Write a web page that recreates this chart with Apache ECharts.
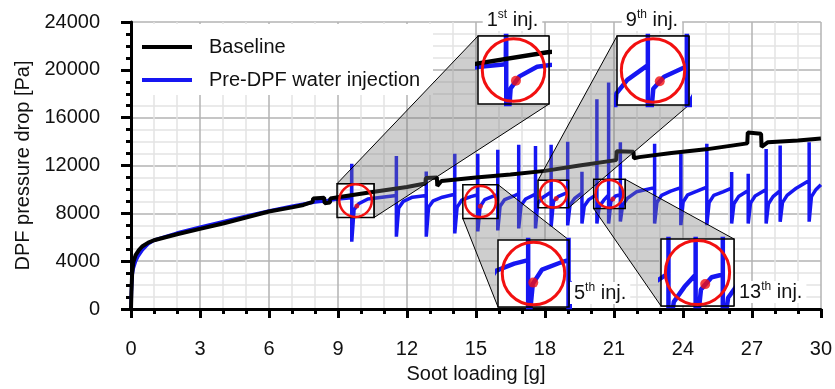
<!DOCTYPE html>
<html>
<head>
<meta charset="utf-8">
<script src="https://cdn.jsdelivr.net/npm/echarts@6/dist/echarts.min.js"></script>
<style>
  html, body { margin: 0; padding: 0; background: #fff; }
  #myChart { width: 835px; height: 389px; }
</style>
</head>
<body>
<div id="myChart"></div>
<script>
// baseline run, soot loading [g] vs pressure drop [Pa]
var baseX = [0, 0.02, 0.05, 0.1, 0.2, 0.35, 0.5, 0.75, 1, 1.5, 2, 3, 4, 4.5, 5, 6, 7, 7.5, 7.9, 7.92, 8.4, 8.42, 8.65, 8.67, 9, 10.5, 12, 12.8, 12.82, 13.3, 13.32, 13.5, 15, 16.5, 18, 19.5, 21.1, 21.12, 21.85, 21.87, 22.1, 23.5, 25, 26.8, 26.82, 27.4, 27.42, 27.7, 29, 30]
var baseY = [0, 1500, 3000, 3900, 4500, 4950, 5250, 5550, 5750, 6000, 6250, 6700, 7150, 7400, 7650, 8150, 8500, 8700, 8950, 9250, 9300, 8850, 8900, 9250, 9350, 9790, 10200, 10500, 10950, 11000, 10300, 10700, 11000, 11250, 11550, 12000, 12450, 13200, 13150, 12600, 12700, 13050, 13350, 13850, 14750, 14650, 13550, 13950, 14100, 14250]

// water injection run before the first injection
var blueX = [0, 0.02, 0.05, 0.1, 0.2, 0.3, 0.5, 0.75, 1, 1.5, 2, 3, 4, 5, 6, 7, 8, 8.5, 9, 9.59]
var blueY = [0, 1500, 2800, 3400, 4000, 4400, 4950, 5450, 5750, 6050, 6350, 6850, 7300, 7750, 8200, 8600, 8950, 9050, 9200, 9300]

// injections: position, spike top, spike bottom, value just before,
// value 0.1 g / 0.3 g / 0.7 g after the injection
var injX = [9.60, 11.54, 12.84, 14.08, 15.08, 15.95, 16.86, 17.59, 18.27, 18.99, 19.61, 20.26, 20.77, 21.28, 22.77, 23.91, 25.04, 26.12, 26.84, 27.62, 28.23, 29.49]
var injTop = [12150, 12790, 11500, 12980, 12980, 13310, 13730, 13640, 13730, 13980, 11480, 17550, 18940, 13950, 13810, 13120, 13810, 11460, 11310, 13390, 13670, 13950]
var injLow = [5630, 6050, 6050, 6320, 6490, 6570, 6740, 6740, 6900, 6990, 7150, 7150, 7150, 7320, 7150, 7010, 7010, 7150, 7150, 7150, 7300, 7300]
var injPre = [9300, 9500, 9500, 9600, 9550, 9550, 9650, 9600, 9790, 9750, 9700, 9600, 9550, 9550, 10150, 10150, 10200, 10100, 9900, 10000, 9900, 10750]
var injR1 = [8300, 8450, 8500, 8500, 8550, 8600, 8650, 8850, 9000, 8700, 8600, 8550, 9000, 8700, 8900, 8950, 8900, 8800, 8850, 8800, 8900, 9400]
var injR2 = [8800, 9000, 9050, 9100, 9150, 9150, 9200, 9300, 9400, 9250, 9150, 9100, 9450, 9250, 9500, 9550, 9500, 9400, 9450, 9400, 9500, 10000]
var injR3 = [9200, 9350, 9350, 9400, 9450, 9450, null, null, null, null, null, null, null, 9800, 9850, 9850, 9800, null, null, null, 10100, null]
var blueEnd = [30, 10400]

// zoomed windows (1st, 5th, 9th, 13th injection)
var zoomName = ['1', '5', '9', '13']
var zoomSup = ['st', 'th', 'th', 'th']
var zoomX0 = [8.96, 14.43, 17.70, 20.12]
var zoomX1 = [10.57, 15.96, 19.03, 21.49]
var zoomY0 = [7650, 7570, 8460, 8400]
var zoomY1 = [10480, 10400, 10760, 10850]
var dotX = [9.82, 15.19, 18.49, 20.95]
var dotY = [8620, 8600, 9250, 9200]

// inset placement in pixels [left, top, width, height]
var insetBox = [[478, 36, 71, 68], [498, 240, 71, 67], [617, 36, 72, 69], [661, 239, 73, 67]]
var insetAbove = [true, false, true, false]

var BLUE = '#1616f2'
var RED = '#f21010'
var FONT = 'Liberation Sans, Arial, sans-serif'

var baseData = baseX.map(function (x, i) { return [x, baseY[i]] })
var blueData = blueX.map(function (x, i) { return [x, blueY[i]] })
injX.forEach(function (x, i) {
  blueData.push([x, injPre[i]], [x, injTop[i]], [x, injLow[i]], [x + 0.1, injR1[i]], [x + 0.3, injR2[i]])
  if (injR3[i] !== null) blueData.push([x + 0.7, injR3[i]])
})
blueData.push(blueEnd)
var dotData = dotX.map(function (x, i) { return [x, dotY[i]] })

var myChart = echarts.init(document.getElementById('myChart'))

var grids = [{ left: 131, right: 12, top: 22, bottom: 78 }]
var xAxes = [{
  type: 'value', min: 0, max: 30, interval: 3,
  name: 'Soot loading [g]', nameLocation: 'middle', nameGap: 55,
  nameTextStyle: { fontSize: 20, color: '#111', fontFamily: FONT },
  axisLabel: { fontSize: 20, color: '#111', margin: 30, fontFamily: FONT },
  axisLine: { lineStyle: { color: '#000', width: 3 } },
  axisTick: { length: 9, lineStyle: { color: '#000', width: 3 } },
  minorTick: { show: true, splitNumber: 3, length: 5, lineStyle: { color: '#000', width: 3 } },
  splitLine: { lineStyle: { color: '#b3b3b3', width: 1.5 } },
  minorSplitLine: { show: true, lineStyle: { color: '#e3e3e3', width: 1.5 } }
}]
var yAxes = [{
  type: 'value', min: 0, max: 24000, interval: 4000,
  name: 'DPF pressure drop [Pa]', nameLocation: 'middle', nameGap: 91,
  nameTextStyle: { fontSize: 20, color: '#111', fontFamily: FONT },
  axisLabel: { fontSize: 20, color: '#111', margin: 31, fontFamily: FONT, formatter: function (v) { return String(v) } },
  axisLine: { show: true, lineStyle: { color: '#000', width: 3 } },
  axisTick: { show: true, length: 10, lineStyle: { color: '#000', width: 3 } },
  minorTick: { show: true, splitNumber: 4, length: 5, lineStyle: { color: '#000', width: 3 } },
  splitLine: { lineStyle: { color: '#b3b3b3', width: 1.5 } },
  minorSplitLine: { show: true, lineStyle: { color: '#e3e3e3', width: 1.5 } }
}]
var series = [
  {
    name: 'Pre-DPF water injection', type: 'line', data: blueData, symbol: 'none', z: 2,
    lineStyle: { color: BLUE, width: 3.5 }, itemStyle: { color: BLUE }
  },
  {
    name: 'Baseline', type: 'line', data: baseData, symbol: 'none', z: 2,
    lineStyle: { color: '#000', width: 4 }, itemStyle: { color: '#000' }
  },
  {
    name: 'dots', type: 'scatter', data: dotData, symbolSize: 5, z: 9,
    itemStyle: { color: RED }
  }
]

insetBox.forEach(function (b, k) {
  grids.push({ left: b[0], top: b[1], width: b[2], height: b[3] })
  xAxes.push({ type: 'value', gridIndex: k + 1, min: zoomX0[k], max: zoomX1[k], show: false })
  yAxes.push({ type: 'value', gridIndex: k + 1, min: zoomY0[k], max: zoomY1[k], show: false })
  series.push(
    { name: 'blue' + k, type: 'line', xAxisIndex: k + 1, yAxisIndex: k + 1, data: blueData, symbol: 'none', z: 7, lineStyle: { color: BLUE, width: 4.5 } },
    { name: 'base' + k, type: 'line', xAxisIndex: k + 1, yAxisIndex: k + 1, data: baseData, symbol: 'none', z: 7, lineStyle: { color: '#000', width: 4.5 } },
    { name: 'dot' + k, type: 'scatter', xAxisIndex: k + 1, yAxisIndex: k + 1, data: [dotData[k]], symbolSize: 10, z: 9, itemStyle: { color: RED } }
  )
})

myChart.setOption({
  animation: false,
  backgroundColor: '#fff',
  textStyle: { fontFamily: FONT },
  grid: grids,
  xAxis: xAxes,
  yAxis: yAxes,
  legend: {
    data: ['Baseline', 'Pre-DPF water injection'],
    orient: 'vertical', left: 142, top: 37, padding: 0, itemGap: 13, z: 4,
    icon: 'rect', itemWidth: 50, itemHeight: 4, selectedMode: false,
    textStyle: { fontSize: 20, color: '#111', padding: [0, 0, 0, 12], fontFamily: FONT }
  },
  series: series
})

// annotations: boxes, funnels, circles and labels
var graphic = [{ type: 'rect', z: 3, shape: { x: 133, y: 24, width: 300, height: 71 }, style: { fill: '#fff' } }]
insetBox.forEach(function (b, k) {
  var p0 = myChart.convertToPixel({ xAxisIndex: 0, yAxisIndex: 0 }, [zoomX0[k], zoomY1[k]])
  var p1 = myChart.convertToPixel({ xAxisIndex: 0, yAxisIndex: 0 }, [zoomX1[k], zoomY0[k]])
  var sTL = p0, sBR = p1, sTR = [p1[0], p0[1]], sBL = [p0[0], p1[1]]
  var iTL = [b[0], b[1]], iTR = [b[0] + b[2], b[1]], iBR = [b[0] + b[2], b[1] + b[3]], iBL = [b[0], b[1] + b[3]]
  var poly = insetAbove[k] ? [sTL, iTL, iTR, iBR, sBR, sTR] : [sTR, iTR, iBR, iBL, sBL, sBR]
  graphic.push({ type: 'polygon', z: 5, shape: { points: poly }, style: { fill: 'rgba(120,120,120,0.36)', stroke: '#000', lineWidth: 1 } })
  graphic.push({ type: 'rect', z: 6, shape: { x: b[0], y: b[1], width: b[2], height: b[3] }, style: { fill: '#fff' } })
  graphic.push({ type: 'rect', z: 8, shape: { x: b[0], y: b[1], width: b[2], height: b[3] }, style: { fill: 'none', stroke: '#000', lineWidth: 1.5 } })
  var sw = sBR[0] - sTL[0], sh = sBR[1] - sTL[1]
  graphic.push({ type: 'rect', z: 8, shape: { x: sTL[0], y: sTL[1], width: sw, height: sh }, style: { fill: 'none', stroke: '#000', lineWidth: 1.5 } })
  graphic.push({ type: 'circle', z: 8, shape: { cx: sTL[0] + sw / 2, cy: sTL[1] + sh / 2, r: sw * 0.44 }, style: { fill: 'none', stroke: RED, lineWidth: 2.5 } })
  graphic.push({ type: 'circle', z: 8, shape: { cx: b[0] + b[2] / 2, cy: b[1] + b[3] / 2, r: b[2] * 0.44 }, style: { fill: 'none', stroke: RED, lineWidth: 3 } })
  var lab = {
    type: 'text', z: 9,
    style: {
      text: '{n|' + zoomName[k] + '}{s|' + zoomSup[k] + '}{n| inj.}',
      rich: {
        n: { fontSize: 20, lineHeight: 22, fill: '#111', fontFamily: FONT },
        s: { fontSize: 12, lineHeight: 12, verticalAlign: 'top', fill: '#111', fontFamily: FONT }
      },
      backgroundColor: '#fff', padding: [0, 4]
    }
  }
  if (insetAbove[k]) {
    lab.x = b[0] + b[2] / 2 - 1
    lab.y = 9
    lab.style.align = 'center'
  } else {
    lab.x = b[0] + b[2] + 1
    lab.y = b[1] + b[3] - 25
    lab.style.align = 'left'
  }
  graphic.push(lab)
})
myChart.setOption({ graphic: graphic })
</script>
</body>
</html>
